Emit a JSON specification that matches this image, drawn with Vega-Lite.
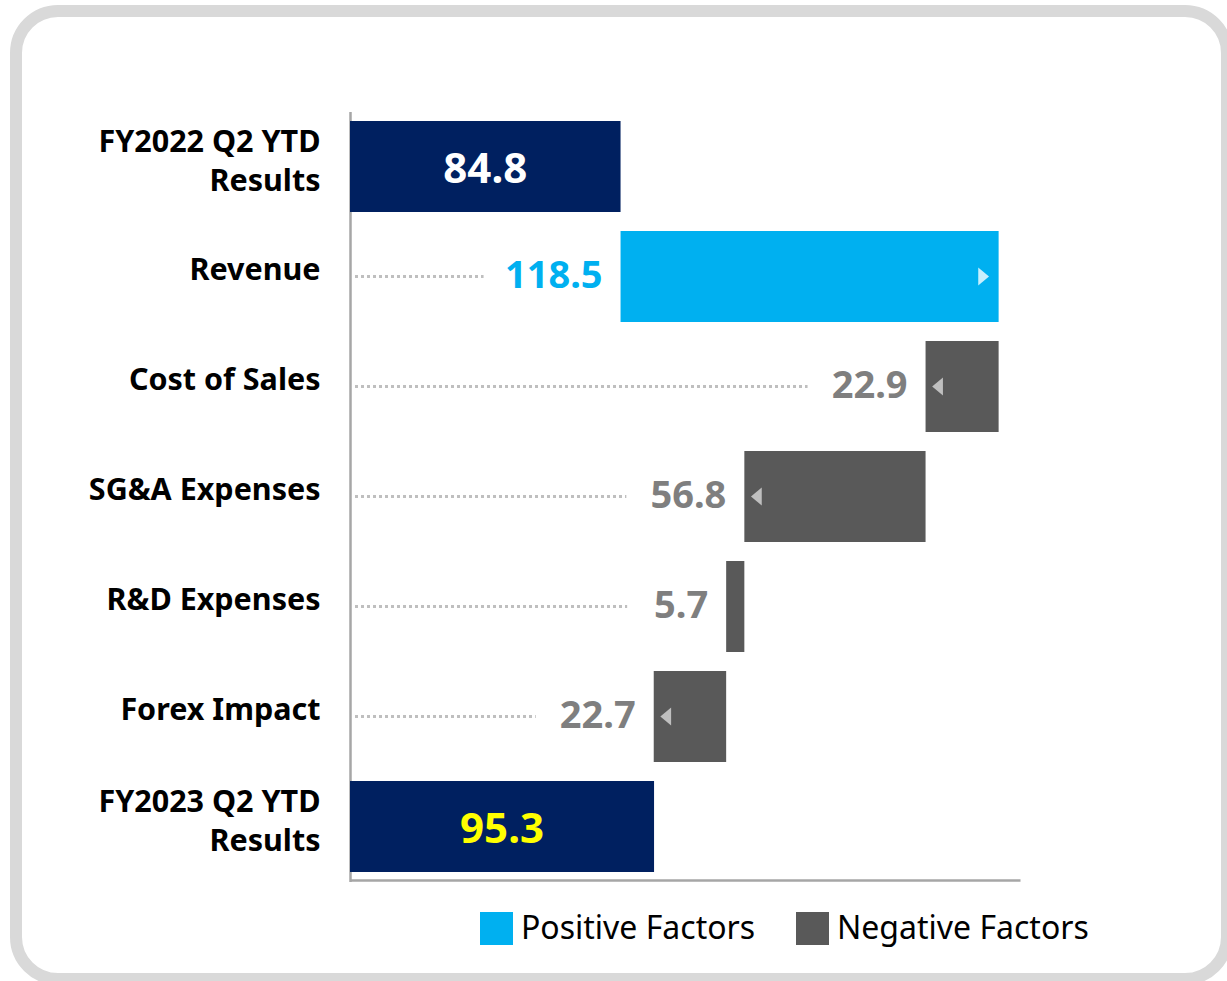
{
  "$schema": "https://vega.github.io/schema/vega-lite/v6.json",
  "width": 1211,
  "height": 968,
  "autosize": {"type": "none"},
  "padding": {"left": 16, "top": 11, "right": 0, "bottom": 2},
  "background": "white",
  "view": {"stroke": "#d9d9d9", "strokeWidth": 12, "cornerRadius": 42, "fill": "white"},
  "config": {
    "axisX": {
      "domain": true,
      "domainColor": "#a6a6a6",
      "domainWidth": 2.5,
      "ticks": false,
      "labels": false,
      "grid": false
    }
  },
  "data": {
    "values": [
      {"cat": "FY2022 Q2 YTD Results", "kind": "Total", "amount": 84.8, "start": 0, "end": 84.8},
      {"cat": "Revenue", "kind": "Positive Factors", "amount": 118.5, "start": 84.8, "end": 203.3},
      {"cat": "Cost of Sales", "kind": "Negative Factors", "amount": 22.9, "start": 203.3, "end": 180.4},
      {"cat": "SG&A Expenses", "kind": "Negative Factors", "amount": 56.8, "start": 180.4, "end": 123.6},
      {"cat": "R&D Expenses", "kind": "Negative Factors", "amount": 5.7, "start": 123.6, "end": 117.9},
      {"cat": "Forex Impact", "kind": "Negative Factors", "amount": 22.7, "start": 117.9, "end": 95.2},
      {"cat": "FY2023 Q2 YTD Results", "kind": "Total", "amount": 95.3, "start": 0, "end": 95.3}
    ]
  },
  "transform": [
    {"calculate": "min(datum.start, datum.end)", "as": "lo"},
    {"calculate": "(datum.start + datum.end) / 2", "as": "mid"},
    {"calculate": "0", "as": "base"},
    {"calculate": "datum.lo - (42 + 19 * length(format(datum.amount, '.1f'))) * 210 / 670", "as": "lineEnd"}
  ],
  "encoding": {
    "y": {
      "field": "cat",
      "type": "nominal",
      "sort": null,
      "scale": {"range": [100.5, 870.5], "paddingInner": 0.173, "paddingOuter": 0.0865},
      "axis": {
        "title": null,
        "offset": -334,
        "domain": true,
        "domainColor": "#a6a6a6",
        "domainWidth": 2.5,
        "ticks": false,
        "tickSize": 0,
        "labelPadding": 30,
        "labelFont": "Noto Sans",
        "labelFontWeight": "bold",
        "labelFontSize": 30.5,
        "labelColor": "black",
        "labelLineHeight": 39,
        "labelLimit": 400,
        "labelOffset": {"condition": {"test": "indexof(datum.value, ' Results') > 0", "value": -24}, "value": -6},
        "labelExpr": "indexof(datum.value, ' Results') > 0 ? [replace(datum.value, ' Results', ''), 'Results'] : datum.value"
      }
    }
  },
  "layer": [
    {
      "mark": {"type": "bar"},
      "encoding": {
        "x": {
          "field": "start",
          "type": "quantitative",
          "scale": {"domain": [0, 210], "range": [334, 1004], "nice": false, "zero": true},
          "axis": {"title": null, "orient": "bottom", "offset": -99}
        },
        "x2": {"field": "end"},
        "color": {
          "field": "kind",
          "type": "nominal",
          "scale": {
            "domain": ["Positive Factors", "Negative Factors", "Total"],
            "range": ["#00b0f0", "#595959", "#002060"]
          },
          "legend": {
            "values": ["Positive Factors", "Negative Factors"],
            "title": null,
            "orient": "none",
            "legendX": 464,
            "legendY": 901,
            "direction": "horizontal",
            "symbolType": "square",
            "symbolSize": 1089,
            "symbolStrokeWidth": 0,
            "labelFont": "Noto Sans",
            "labelFontSize": 32,
            "labelColor": "black",
            "labelOffset": 8,
            "columnPadding": 40,
            "labelLimit": 400
          }
        }
      }
    },
    {
      "transform": [{"filter": "datum.kind !== 'Total'"}],
      "mark": {"type": "rule", "stroke": "#bfbfbf", "strokeWidth": 3, "strokeDash": [3, 3], "xOffset": 5},
      "encoding": {
        "x": {"field": "base", "type": "quantitative", "axis": {"title": null, "orient": "bottom", "offset": -99}},
        "x2": {"field": "lineEnd"}
      }
    },
    {
      "transform": [{"filter": "datum.kind === 'Total'"}],
      "mark": {"type": "text", "font": "Noto Sans", "fontWeight": "bold", "fontSize": 42, "align": "center", "baseline": "middle", "dy": 3},
      "encoding": {
        "x": {"field": "mid", "type": "quantitative", "axis": {"title": null, "orient": "bottom", "offset": -99}},
        "text": {"field": "amount", "type": "quantitative", "format": ".1f"},
        "color": {
          "condition": {"test": "datum.cat === 'FY2023 Q2 YTD Results'", "value": "#ffff00"},
          "value": "#ffffff"
        }
      }
    },
    {
      "transform": [{"filter": "datum.kind !== 'Total'"}],
      "mark": {"type": "text", "font": "Noto Sans", "fontWeight": "bold", "fontSize": 38, "align": "right", "baseline": "middle", "dx": -18},
      "encoding": {
        "x": {"field": "lo", "type": "quantitative", "axis": {"title": null, "orient": "bottom", "offset": -99}},
        "text": {"field": "amount", "type": "quantitative", "format": ".1f"},
        "color": {
          "condition": {"test": "datum.kind === 'Positive Factors'", "value": "#00b0f0"},
          "value": "#7f7f7f"
        }
      }
    },
    {
      "transform": [{"filter": "datum.kind === 'Positive Factors'"}],
      "mark": {"type": "point", "shape": "M-0.6,-1L0.6,0L-0.6,1Z", "size": 324, "filled": true, "opacity": 1, "color": "#c8effd", "xOffset": -15},
      "encoding": {
        "x": {"field": "end", "type": "quantitative", "axis": {"title": null, "orient": "bottom", "offset": -99}}
      }
    },
    {
      "transform": [{"filter": "datum.kind === 'Negative Factors' && datum.amount > 10"}],
      "mark": {"type": "point", "shape": "M0.6,-1L-0.6,0L0.6,1Z", "size": 324, "filled": true, "opacity": 1, "color": "#bfbfbf", "xOffset": 12},
      "encoding": {
        "x": {"field": "end", "type": "quantitative", "axis": {"title": null, "orient": "bottom", "offset": -99}}
      }
    }
  ]
}
